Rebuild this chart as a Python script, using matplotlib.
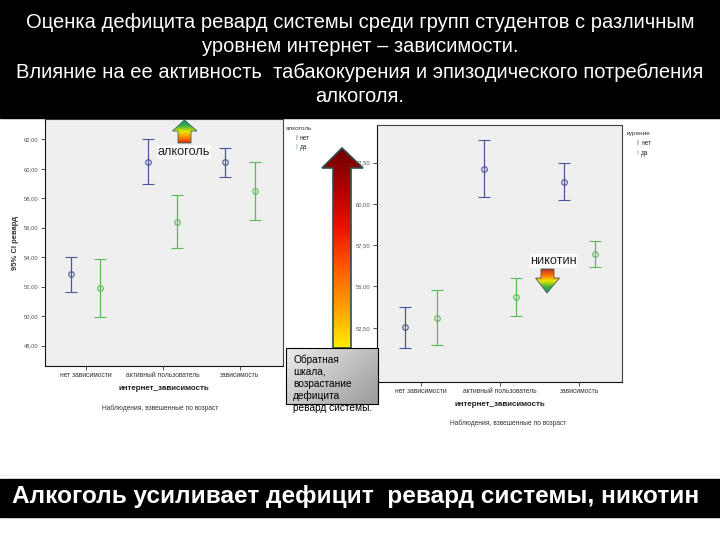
import numpy as np
import matplotlib
matplotlib.use("Agg")
import matplotlib.pyplot as plt
from matplotlib import font_manager
from matplotlib.patches import Polygon, Rectangle
from matplotlib.colors import LinearSegmentedColormap

# ---------------- data ----------------
categories = ["нет зависимости", "активный пользователь", "зависимость"]

alc_no_mean = [52.85, 60.46, 60.44]
alc_no_low = [51.63, 58.95, 59.44]
alc_no_high = [54.00, 62.00, 61.40]

alc_yes_mean = [51.94, 56.42, 58.50]
alc_yes_low = [49.95, 54.61, 56.51]
alc_yes_high = [53.88, 58.22, 60.46]

smk_no_mean = [52.53, 62.11, 61.34]
smk_no_low = [51.30, 60.41, 60.21]
smk_no_high = [53.75, 63.85, 62.50]

smk_yes_mean = [53.12, 54.34, 56.97]
smk_yes_low = [51.44, 53.20, 56.15]
smk_yes_high = [54.77, 55.50, 57.74]

left_ticks = [48, 50, 52, 54, 56, 58, 60, 62]
left_ticklabels = ["48,00", "50,00", "52,00", "54,00", "56,00", "58,00", "60,00", "62,00"]
right_ticks = [52.5, 55.0, 57.5, 60.0, 62.5]
right_ticklabels = ["52,50", "55,00", "57,50", "60,00", "62,50"]

legend_levels = ["нет", "да"]

title_lines = ["Оценка дефицита ревард системы среди групп студентов с различным",
               "уровнем интернет – зависимости.",
               "Влияние на ее активность  табакокурения и эпизодического потребления",
               "алкоголя."]
bottom_text = "Алкоголь усиливает дефицит  ревард системы, никотин"
box_text = "Обратная\nшкала,\nвозрастание\nдефицита\nревард системы."

# ---------------- style ----------------
names = {f.name for f in font_manager.fontManager.ttflist}
narrow = "Liberation Sans Narrow" if "Liberation Sans Narrow" in names else "Liberation Sans"
plt.rcParams["font.family"] = ["Liberation Sans", "DejaVu Sans"]

W, H = 720, 540
fig = plt.figure(figsize=(7.2, 5.4), dpi=100)
fig.patch.set_facecolor("white")

def rect(x0, y0, x1, y1):
    return [x0 / W, 1 - y1 / H, (x1 - x0) / W, (y1 - y0) / H]

BLUE = "#4a5696"
GREEN = "#5cb85c"
PLOTBG = "#efefef"
FRAME = "#444444"


def draw_panel(ax, no_m, no_lo, no_hi, yes_m, yes_lo, yes_hi, ticks, ticklabels,
               xlim, ylim, off):
    x = np.arange(len(categories))
    for xs, m, lo, hi, c in [(x - off, no_m, no_lo, no_hi, BLUE),
                             (x + off, yes_m, yes_lo, yes_hi, GREEN)]:
        m = np.array(m); lo = np.array(lo); hi = np.array(hi)
        ax.errorbar(xs, m, yerr=[m - lo, hi - m], fmt="o", color=c, mfc="none",
                    mec=c, ms=4, mew=0.8, elinewidth=0.9, capsize=4, capthick=0.9)
    ax.set_facecolor(PLOTBG)
    ax.set_xlim(*xlim)
    ax.set_ylim(*ylim)
    ax.set_yticks(ticks)
    ax.set_yticklabels(ticklabels, fontsize=4.2, color="#555555")
    ax.set_xticks(x)
    ax.set_xticklabels(categories, fontsize=4.8, color="#333333")
    ax.tick_params(axis="both", length=3, width=0.6, color="#333333", pad=1.5)
    for s in ax.spines.values():
        s.set_color(FRAME)
        s.set_linewidth(0.8)
    ax.spines["left"].set_color("#111111")
    ax.spines["bottom"].set_color("#111111")
    ax.set_xlabel("интернет_зависимость", fontsize=5.8, fontweight="bold",
                  color="#222222", labelpad=4)


# left chart (alcohol)
axL = fig.add_axes(rect(45, 119, 283, 366))
draw_panel(axL, alc_no_mean, alc_no_low, alc_no_high,
           alc_yes_mean, alc_yes_low, alc_yes_high,
           left_ticks, left_ticklabels, (-0.53, 2.56), (46.62, 63.38), 0.19)
axL.set_ylabel("95% CI ревард", fontsize=5.5, fontweight="bold", color="#333333",
               labelpad=4)
fig.text(160 / W, 1 - 408 / H, "Наблюдения, взвешенные по возраст", fontsize=4.8,
         color="#333333", ha="center", va="center")

# right chart (smoking)
axR = fig.add_axes(rect(377, 125, 622, 382))
draw_panel(axR, smk_no_mean, smk_no_low, smk_no_high,
           smk_yes_mean, smk_yes_low, smk_yes_high,
           right_ticks, right_ticklabels, (-0.56, 2.54), (49.22, 64.77), 0.2)
fig.text(508 / W, 1 - 423 / H, "Наблюдения, взвешенные по возраст", fontsize=4.8,
         color="#333333", ha="center", va="center")

# legends
def legend(x, y, title):
    fig.text(x / W, 1 - y / H, title, fontsize=4.6, color="#333333", va="center")
    for i, (lab, c) in enumerate(zip(legend_levels, [BLUE, GREEN])):
        yy = y + 10 + i * 9.5
        fig.text((x + 10) / W, 1 - yy / H, "I", fontsize=5, color=c, va="center",
                 ha="center")
        fig.text((x + 14) / W, 1 - yy / H, lab, fontsize=4.8, color="#333333",
                 va="center")

legend(286, 128, "алкоголь")
legend(627, 134, "курение")

# ---------------- overlay ----------------
ov = fig.add_axes([0, 0, 1, 1], zorder=10)
ov.set_xlim(0, W)
ov.set_ylim(H, 0)
ov.axis("off")
ov.patch.set_alpha(0)

ov.add_patch(Rectangle((0, 0), W, 118, color="black", zorder=1))
ov.add_patch(Rectangle((0, 479), W, 38, color="black", zorder=1))
ov.plot([0, W], [475, 475], color="#eeeeee", lw=0.8, zorder=1)

for i, line in enumerate(title_lines):
    ov.text(360, 22 + i * 25, line, color="white", fontsize=14.5, family=[narrow, "DejaVu Sans"],
            ha="center", va="center", zorder=2)
ov.text(12, 497, bottom_text, color="white", fontsize=17.6, fontweight="bold",
        ha="left", va="center", zorder=2)


def grad_arrow(pts, colors, edge, lw=1.0):
    pts = np.array(pts, dtype=float)
    poly = Polygon(pts, closed=True, facecolor="none", edgecolor=edge, lw=lw, zorder=6)
    ov.add_patch(poly)
    cmap = LinearSegmentedColormap.from_list("g", colors)
    grad = np.linspace(0, 1, 256).reshape(-1, 1)
    x0, x1 = pts[:, 0].min(), pts[:, 0].max()
    y0, y1 = pts[:, 1].min(), pts[:, 1].max()
    im = ov.imshow(grad, cmap=cmap, extent=(x0, x1, y1, y0), origin="upper",
                   aspect="auto", zorder=5, interpolation="bilinear")
    clip = Polygon(pts, closed=True, transform=ov.transData)
    im.set_clip_path(clip)


# big central arrow
grad_arrow([(342, 148), (363, 168), (351, 168), (351, 348), (333, 348), (333, 168), (322, 168)],
           ["#6e0000", "#b00000", "#ee1100", "#ff5a00", "#ffa000", "#ffee00"], "#2f4f4f", 1.2)
ov.set_xlim(0, W)
ov.set_ylim(H, 0)

# text box
box = Rectangle((286, 348), 92, 56, zorder=7, facecolor="none", edgecolor="black", lw=0.8)
ov.add_patch(box)
bg = np.linspace(0, 1, 256).reshape(1, -1) * 0.6 + np.linspace(0, 1, 64).reshape(-1, 1) * 0.4
bcm = LinearSegmentedColormap.from_list("b", ["#ececec", "#c4c4c4", "#9a9a9a"])
ov.imshow(bg, cmap=bcm, extent=(286, 378, 404, 348), origin="upper", aspect="auto",
          zorder=6.5)
box_lines = box_text.split("\n")
for i, line in enumerate(box_lines):
    ov.text(293, 360 + i * 12, line, fontsize=7.3, color="black", ha="left",
            va="center", zorder=8)

# alcohol arrow (up)
grad_arrow([(184.5, 120), (197, 131), (191, 131), (191, 143), (178, 143), (178, 131), (172.5, 131)],
           ["#138a8a", "#3cb043", "#e8e800", "#ff8c00", "#e02000"], "#336666", 0.6)
ov.text(184, 152, "алкоголь", fontsize=9.2, color="#222222", ha="center", va="center",
        zorder=8, bbox=dict(facecolor="#fafafa", edgecolor="none", pad=0.5))

# nicotine arrow (down)
ov.text(553, 261, "никотин", fontsize=9.2, color="#222222", ha="center", va="center",
        zorder=8, bbox=dict(facecolor="#fafafa", edgecolor="none", pad=0.5))
grad_arrow([(541, 269), (554, 269), (554, 278), (559.5, 278), (547, 293), (535.5, 278), (541, 278)],
           ["#b03030", "#ff7000", "#e8e800", "#3cb043", "#138a8a"], "#555555", 0.6)

ov.set_xlim(0, W)
ov.set_ylim(H, 0)

fig.savefig("out.png", dpi=100)
